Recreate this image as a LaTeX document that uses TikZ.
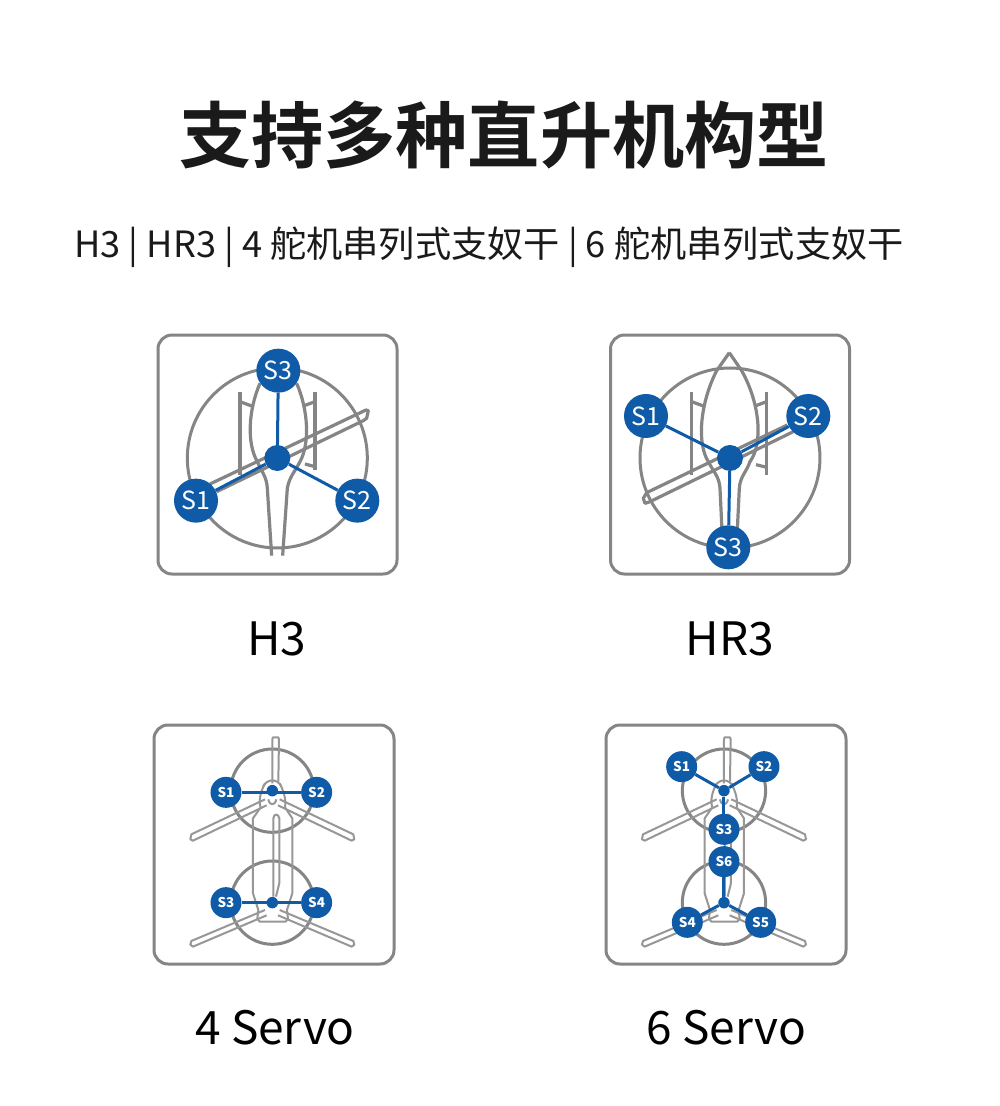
\documentclass[tikz,border=0pt]{standalone}
\usepackage{fontspec}
\setmainfont{Noto Sans CJK SC}
\newfontfamily\boldcjk{Noto Sans CJK SC Bold}
\definecolor{frameg}{HTML}{858585}
\definecolor{servob}{HTML}{0F5BA7}
\definecolor{inkd}{HTML}{1A1A1A}
\tikzset{
  panel/.style={draw=frameg,line width=3pt,rounded corners=14pt,fill=white},
  heli/.style={draw=frameg,line width=3.2pt,line join=round},
  thin heli/.style={draw=frameg!85,line width=2pt,line join=round},
  rotor/.style={draw=frameg,line width=3pt},
  servobig/.style={circle,fill=servob,text=white,inner sep=0pt,minimum size=44pt,font=\fontsize{25}{25}\selectfont},
  servosmall/.style={circle,fill=servob,text=white,inner sep=0pt,minimum size=31pt,font=\fontsize{13.5}{13.5}\selectfont\bfseries},
  hubbig/.style={circle,fill=servob,inner sep=0pt,minimum size=26pt},
  hubsmall/.style={circle,fill=servob,inner sep=0pt,minimum size=11.5pt},
  link/.style={draw=servob,line width=3pt},
  caption/.style={font=\fontsize{46}{46}\selectfont,text=black,inner sep=0pt,anchor=center}
}
\newcommand{\tandemframe}[1]{%
  % #1: x of rotor axis in crop units
  \begin{scope}[xshift=#1*0.3333pt]
    \draw[rotor] (0,212) circle[radius=125];
    \draw[rotor] (0,548) circle[radius=125];
    % upper vertical blade
    \draw[thin heli] (0,190) -- (0,58) -- (2,52) -- (18,52) -- (20,58) -- (18,185);
    % upper side blades
    \draw[thin heli] (-22,238) -- (-243,343) -- (-246,358) -- (-238,362) -- (-17,256);
    \draw[thin heli] (22,238) -- (243,343) -- (246,358) -- (238,362) -- (17,256);
    % fuselage
    \draw[thin heli] (-22,190) .. controls (-35,215) and (-42,240) .. (-35,262) -- (-58,295) -- (-58,520) -- (-42,570) -- (-45,596) -- (-38,605) -- (40,605) -- (47,596) -- (44,570) -- (60,520) -- (60,295) -- (38,262) .. controls (42,240) and (35,215) .. (22,190);
    \draw[thin heli] (-28,200) .. controls (-15,175) and (15,175) .. (28,200);
    \draw[thin heli] (-12,238) .. controls (-8,258) and (8,258) .. (12,238);
    % lower vertical blade
    \draw[thin heli] (3,530) -- (3,295) .. controls (5,280) and (18,280) .. (21,295) -- (21,490) -- (11,530);
    % lower side blades
    \draw[thin heli] (-22,570) -- (-243,663) -- (-246,674) -- (-238,680) -- (-17,586);
    \draw[thin heli] (22,570) -- (243,663) -- (246,674) -- (238,680) -- (17,586);
  \end{scope}}
\begin{document}
\begin{tikzpicture}[x=1pt,y=-1pt]
\useasboundingbox (0,0) rectangle (1000,1106);
\fill[white] (0,0) rectangle (1000,1106);
\node[font=\fontsize{72.2}{72.2}\boldcjk,text=inkd,inner sep=0pt] (title) at (504,135.5) {支持多种直升机构型};
\node[font=\fontsize{36.2}{36.2}\selectfont,text=inkd,inner sep=0pt] (subtitle) at (489,247) {H3 | HR3 | 4 舵机串列式支奴干 | 6 舵机串列式支奴干};

% ---------- H3
\node[panel,minimum width=239pt,minimum height=239pt,inner sep=0pt] (boxa) at (277.5,454.5) {};
\begin{scope}[shift={(150,330)},x=0.3333pt,y=-0.3333pt]
  \draw[rotor] (382,384) circle[radius=270];
  \draw[heli] (330,160) .. controls (295,240) and (290,340) .. (322,395) .. controls (335,425) and (350,440) .. (352,475) -- (365,677);
  \draw[heli] (440,160) .. controls (475,240) and (480,340) .. (450,395) .. controls (435,425) and (418,440) .. (412,475) -- (398,677);
  \draw[heli] (270,185) -- (270,435);
  \draw[heli] (270,215) -- (305,228);
  \draw[heli] (495,185) -- (495,420);
  \draw[heli] (495,215) -- (460,228);
  \draw[heli] (495,410) -- (465,402);
  \draw[heli] (180,462) -- (648,240) -- (655,242) -- (650,265) -- (640,272) -- (200,485);
  \node[hubbig] (ahub) at (382,384) {};
  \node[servobig] (as3) at (385,122) {S3};
  \node[servobig] (as1) at (138,512) {S1};
  \node[servobig] (as2) at (622,512) {S2};
  \draw[link] (ahub) -- (as1);
  \draw[link] (ahub) -- (as2);
  \draw[link] (ahub) -- (as3);
\end{scope}
\node[caption] (capa) at (277,639) {H3};

% ---------- HR3
\node[panel,minimum width=239pt,minimum height=239pt,inner sep=0pt] (boxb) at (730,454.5) {};
\begin{scope}[shift={(600,330)},x=0.3333pt,y=-0.3333pt]
  \draw[rotor] (390,384) circle[radius=270];
  \draw[heli] (388,68) -- (350,122) .. controls (300,220) and (290,340) .. (325,395) .. controls (340,425) and (358,440) .. (360,475) -- (366,600);
  \draw[heli] (388,68) -- (425,122) .. controls (480,220) and (490,340) .. (450,395) .. controls (440,425) and (420,440) .. (418,475) -- (412,600);
  \draw[heli] (275,185) -- (275,435);
  \draw[heli] (275,215) -- (310,228);
  \draw[heli] (500,185) -- (500,435);
  \draw[heli] (500,215) -- (465,228);
  \draw[heli] (500,412) -- (468,404);
  \draw[heli] (562,285) -- (140,488) -- (130,505) -- (135,520) -- (150,515) -- (580,305);
  \node[hubbig] (bhub) at (390,384) {};
  \node[servobig] (bs1) at (138,258) {S1};
  \node[servobig] (bs2) at (625,258) {S2};
  \node[servobig] (bs3) at (385,652) {S3};
  \draw[link] (bhub) -- (bs1);
  \draw[link] (bhub) -- (bs2);
  \draw[link] (bhub) -- (bs3);
\end{scope}
\node[caption] (capb) at (730,639) {HR3};

% ---------- 4 Servo
\node[panel,minimum width=240pt,minimum height=239pt,inner sep=0pt] (boxc) at (274,844.5) {};
\begin{scope}[shift={(150,720)},x=0.3333pt,y=-0.3333pt]
  \tandemframe{367}
  \node[hubsmall] (chub1) at (367,212) {};
  \node[hubsmall] (chub2) at (367,548) {};
  \node[servosmall] (cs1) at (228,217) {S1};
  \node[servosmall] (cs2) at (500,217) {S2};
  \node[servosmall] (cs3) at (228,548) {S3};
  \node[servosmall] (cs4) at (500,548) {S4};
  \draw[link] (cs1) -- (cs2);
  \draw[link] (cs3) -- (cs4);
\end{scope}
\node[caption] (capc) at (275,1028) {4 Servo};

% ---------- 6 Servo
\node[panel,minimum width=240pt,minimum height=239pt,inner sep=0pt] (boxd) at (726,844.5) {};
\begin{scope}[shift={(600,720)},x=0.3333pt,y=-0.3333pt]
  \tandemframe{372}
  \node[hubsmall] (dhub1) at (372,212) {};
  \node[hubsmall] (dhub2) at (372,548) {};
  \node[servosmall] (ds1) at (245,140) {S1};
  \node[servosmall] (ds2) at (492,140) {S2};
  \node[servosmall] (ds3) at (372,328) {S3};
  \node[servosmall] (ds6) at (372,425) {S6};
  \node[servosmall] (ds4) at (262,607) {S4};
  \node[servosmall] (ds5) at (482,607) {S5};
  \draw[link] (dhub1) -- (ds1);
  \draw[link] (dhub1) -- (ds2);
  \draw[link] (dhub1) -- (ds3);
  \draw[link] (dhub2) -- (ds6);
  \draw[link] (dhub2) -- (ds4);
  \draw[link] (dhub2) -- (ds5);
\end{scope}
\node[caption] (capd) at (726.5,1028) {6 Servo};
\end{tikzpicture}
\end{document}
